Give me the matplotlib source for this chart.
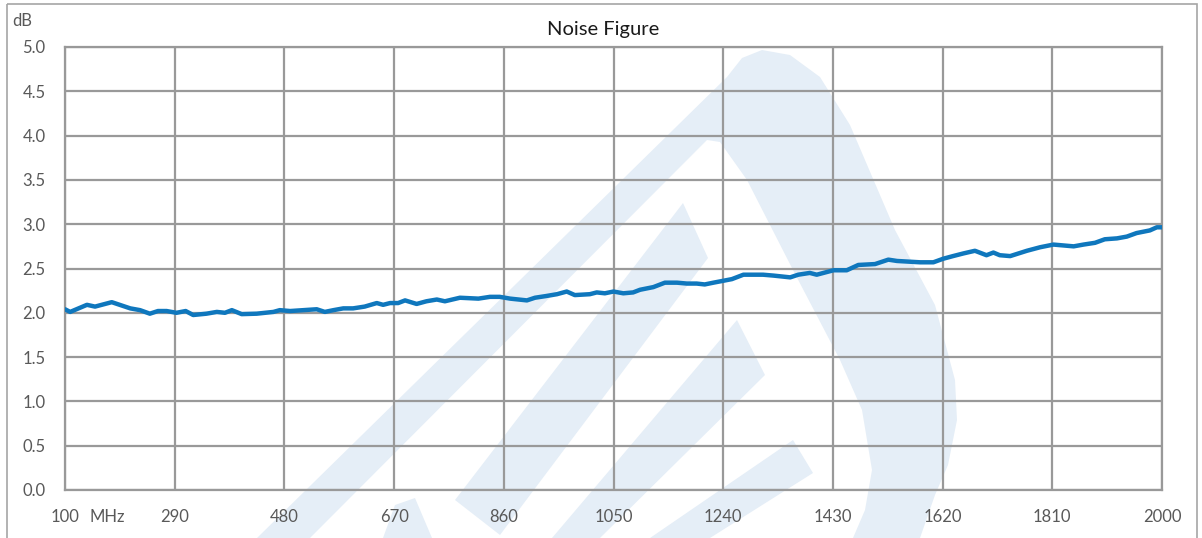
import matplotlib
matplotlib.use("Agg")
import matplotlib.pyplot as plt
from matplotlib.patches import Polygon, Rectangle, PathPatch
from matplotlib.path import Path
import numpy as np

plt.rcParams['font.family'] = ['Lato', 'DejaVu Sans']

# Data (frequency in MHz, noise figure in dB)
freq_mhz = [100, 109, 138, 152, 181, 213, 230, 247, 261, 276, 293, 309, 322, 345,
            363, 377, 389, 406, 432, 461, 472, 490, 536, 550, 565, 582, 599, 619,
            640, 651, 663, 677, 689, 709, 726, 744, 758, 784, 816, 836, 853, 871,
            900, 914, 934, 952, 969, 983, 1009, 1021, 1035, 1050, 1067, 1084, 1096,
            1119, 1139, 1160, 1177, 1194, 1208, 1223, 1255, 1275, 1292, 1309, 1327,
            1356, 1370, 1390, 1402, 1431, 1454, 1474, 1503, 1526, 1541, 1581, 1604,
            1621, 1638, 1656, 1676, 1696, 1708, 1719, 1737, 1766, 1789, 1812, 1847,
            1864, 1884, 1901, 1922, 1939, 1956, 1979, 1991, 2000]
nf_db = [2.04, 2.01, 2.09, 2.07, 2.12, 2.05, 2.03, 1.99, 2.02, 2.02, 2.00, 2.02, 1.975, 1.99,
         2.01, 2.00, 2.03, 1.985, 1.99, 2.01, 2.03, 2.02, 2.04, 2.01, 2.03, 2.05, 2.05, 2.07,
         2.11, 2.09, 2.11, 2.11, 2.14, 2.10, 2.13, 2.15, 2.13, 2.17, 2.16, 2.18, 2.18, 2.16,
         2.14, 2.17, 2.19, 2.21, 2.24, 2.20, 2.21, 2.23, 2.22, 2.24, 2.22, 2.23, 2.26,
         2.29, 2.34, 2.34, 2.33, 2.33, 2.32, 2.34, 2.38, 2.43, 2.43, 2.43, 2.42,
         2.40, 2.43, 2.45, 2.43, 2.48, 2.48, 2.54, 2.55, 2.60, 2.585, 2.57, 2.57,
         2.61, 2.64, 2.67, 2.70, 2.65, 2.68, 2.65, 2.64, 2.70, 2.74, 2.77, 2.75,
         2.77, 2.79, 2.83, 2.84, 2.86, 2.90, 2.93, 2.965, 2.965]

x_ticks = [100, 290, 480, 670, 860, 1050, 1240, 1430, 1620, 1810, 2000]
x_tick_labels = ['100', '290', '480', '670', '860', '1050', '1240', '1430', '1620', '1810', '2000']
y_ticks = [0.0, 0.5, 1.0, 1.5, 2.0, 2.5, 3.0, 3.5, 4.0, 4.5, 5.0]

W, H = 1202, 538
fig = plt.figure(figsize=(W / 100, H / 100), dpi=100)
fig.patch.set_facecolor('white')

# background axes in pixel coordinates for watermark & frame
bg = fig.add_axes([0, 0, 1, 1], zorder=0)
bg.set_xlim(0, W)
bg.set_ylim(H, 0)
bg.axis('off')

wm = '#e5eef7'
outer = [(257, 538), (727, 77), (742, 58), (762, 50), (790, 55), (820, 77),
         (850, 125), (895, 230), (935, 305), (955, 380), (957, 420), (948, 465),
         (935, 495), (920, 538), (257, 538)]
hole = [(310, 538), (707, 140), (720, 142), (747, 180), (793, 270), (840, 360),
        (862, 410), (872, 470), (865, 510), (853, 538), (310, 538)][::-1]
verts = outer + hole
codes = ([Path.MOVETO] + [Path.LINETO] * (len(outer) - 2) + [Path.CLOSEPOLY] +
         [Path.MOVETO] + [Path.LINETO] * (len(hole) - 2) + [Path.CLOSEPOLY])
bg.add_patch(PathPatch(Path(verts, codes), facecolor=wm, edgecolor='none'))
for poly in [
    [(455, 500), (683, 203), (708, 258), (500, 535)],
    [(552, 538), (737, 320), (765, 375), (600, 538)],
    [(650, 538), (793, 440), (813, 473), (710, 538)],
    [(383, 538), (395, 505), (415, 498), (432, 538)],
]:
    bg.add_patch(Polygon(poly, closed=True, facecolor=wm, edgecolor='none'))

bg.add_patch(Rectangle((7, 4), 1197 - 7, 560, facecolor='none',
                       edgecolor='#a6a6a6', linewidth=1.2))

ax = fig.add_axes([65 / W, 1 - 490 / H, (1162 - 65) / W, (490 - 47) / H], zorder=1)
ax.set_facecolor('none')
ax.plot(freq_mhz, nf_db, color='#0f77bd', linewidth=3.2, solid_capstyle='round',
        solid_joinstyle='round', zorder=3)
ax.set_xlim(100, 2000)
ax.set_ylim(0, 5)
ax.set_xticks(x_ticks)
ax.set_xticklabels(x_tick_labels)
ax.set_yticks(y_ticks)
ax.set_yticklabels([f'{v:.1f}' for v in y_ticks])
ax.grid(True, color='#999999', linewidth=1.6, zorder=1)
ax.set_axisbelow(True)
for s in ax.spines.values():
    s.set_color('#999999')
    s.set_linewidth(1.6)
ax.tick_params(axis='both', length=0, labelsize=12, labelcolor='#595959')
ax.tick_params(axis='x', pad=14)
ax.tick_params(axis='y', pad=14)

fig.text(107 / W, 1 - 517 / H, 'MHz', fontsize=12, color='#595959',
         ha='center', va='center')
fig.text(22 / W, 1 - 21 / H, 'dB', fontsize=12, color='#595959',
         ha='center', va='center')
fig.text(603 / W, 1 - 29 / H, 'Noise Figure', fontsize=14.5, color='#1a1a1a',
         ha='center', va='center')

fig.savefig('out.png', dpi=100, facecolor='white')
